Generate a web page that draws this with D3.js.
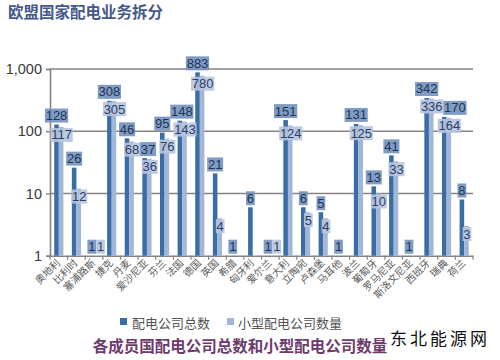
<!DOCTYPE html>
<html><head><meta charset="utf-8">
<script src="https://cdn.jsdelivr.net/npm/d3@7"></script>
<style>
html,body{margin:0;padding:0;background:#fff;}
svg{display:block;}
</style></head>
<body>
<svg id="chart" width="500" height="360"></svg>
<script>
const countries = ["奥地利","比利时","塞浦路斯","捷克","丹麦","爱沙尼亚","芬兰","法国","德国","英国","希腊","匈牙利","爱尔兰","意大利","立陶宛","卢森堡","马耳他","波兰","葡萄牙","罗马尼亚","斯洛文尼亚","西班牙","瑞典","荷兰"];
const totalValues = [128,26,1,308,77,37,95,148,883,21,1,6,1,151,6,5,1,131,13,41,1,342,170,8];
const smallValues = [117,12,1,305,68,36,76,143,780,4,null,null,1,124,5,4,null,125,10,33,null,336,164,3];
const totalLabels = ["128","26","1","308","46","37","95","148","883","21","1","6","1","151","6","5","1","131","13","41","1","342","170","8"];
const smallLabels = ["117","12","1","305","68","36","76","143","780","4",null,null,"1","124","5","4",null,"125","10","33",null,"336","164","3"];
const yTicks = [1,10,100,1000];
const seriesNames = ["配电公司总数","小型配电公司数量"];
const title = "欧盟国家配电业务拆分";
const subtitle = "各成员国配电公司总数和小型配电公司数量";
const watermark = "东北能源网";

(function(){
const svg = d3.select("#chart");
const pL = 50, pR = 473, pT = 69, pB = 255.7;
const cDark = "#3a6da6", cLight = "#a2b7d8";
const gridC = "#878380";

const x = d3.scaleBand().domain(countries).range([pL, pR]).paddingInner(0.48).paddingOuter(0.24);
const x1 = d3.scaleBand().domain(["total","small"]).range([0, x.bandwidth()]);
const y = d3.scaleLog().domain([1,1000]).range([pB, pT]);

const font = "'Liberation Sans', Arial, sans-serif";
const cjk = "'Noto Sans CJK SC', sans-serif";

svg.append("text").attr("x", 8).attr("y", 18).text(title)
  .attr("font-family", cjk).attr("font-weight", "bold").attr("font-size", 15.5).attr("fill", "#46598a");

svg.append("g").selectAll("line").data(yTicks.slice(1)).join("line")
  .attr("x1", pL).attr("x2", pR).attr("y1", d => y(d)).attr("y2", d => y(d))
  .attr("stroke", gridC).attr("stroke-width", 1.6);

const yAxis = svg.append("g").attr("transform", `translate(${pL},0)`)
  .call(d3.axisLeft(y).tickValues(yTicks).tickFormat(d3.format(",")).tickSize(4).tickPadding(4));
yAxis.select(".domain").attr("stroke", gridC).attr("stroke-width", 1.6);
yAxis.selectAll(".tick line").attr("stroke", gridC).attr("stroke-width", 1.4);
yAxis.selectAll(".tick text").attr("font-family", font).attr("font-size", 14.5).attr("fill", "#3a3a3a");

const xAxis = svg.append("g").attr("transform", `translate(0,${pB})`)
  .call(d3.axisBottom(x).tickSize(0).tickFormat(""));
xAxis.select(".domain").attr("stroke", gridC).attr("stroke-width", 1.6);
const bounds = countries.map(c => x(c) - x.step()*x.paddingInner()/2).concat([pR]);
svg.append("g").selectAll("line").data(bounds).join("line")
  .attr("x1", d => d).attr("x2", d => d).attr("y1", pB).attr("y2", pB + 4)
  .attr("stroke", gridC).attr("stroke-width", 1.2);

svg.append("g").selectAll("text").data(countries).join("text")
  .attr("transform", d => `translate(${x(d) + x.bandwidth()/2},${pB + 6}) rotate(-45)`)
  .attr("text-anchor", "end").attr("dominant-baseline", "middle")
  .attr("font-family", cjk).attr("font-size", 10).attr("fill", "#5a5a5a").text(d => d);

const data = countries.map((c,i) => ({c, t: totalValues[i], s: smallValues[i], tl: totalLabels[i], sl: smallLabels[i]}));
const bars = svg.append("g");
bars.selectAll("rect.t").data(data).join("rect").attr("class","t")
  .attr("x", d => x(d.c) + x1("total")).attr("width", x1.bandwidth())
  .attr("y", d => y(d.t)).attr("height", d => y(1) - y(d.t)).attr("fill", cDark);
bars.selectAll("rect.s").data(data.filter(d => d.s != null)).join("rect").attr("class","s")
  .attr("x", d => x(d.c) + x1("small")).attr("width", x1.bandwidth())
  .attr("y", d => y(d.s)).attr("height", d => y(1) - y(d.s)).attr("fill", cLight);

const placed = [];
const lg = svg.append("g");
const specs = [];
data.forEach(d => {
  specs.push({cx: x(d.c) + x1("total") + x1.bandwidth()/2, cy: y(d.t) - 9, txt: d.tl, bg: "#7391bb", fg: "#1d3557"});
  if (d.sl != null) {
    specs.push({cx: x(d.c) + x1("small") + x1.bandwidth()/2 + 0.5, cy: Math.min(y(d.s) + 8, y(1) - 9), txt: d.sl, bg: "#b7c4df", fg: "#2b4266"});
  }
});
specs.forEach(s => {
  const g = lg.append("g");
  const t = g.append("text").attr("x", s.cx).attr("y", s.cy).attr("text-anchor", "middle")
    .attr("dominant-baseline", "central").attr("font-family", font).attr("font-size", 13)
    .attr("fill", s.fg).text(s.txt);
  const w = t.node().getBBox().width + 1.5;
  let x0 = s.cx - w/2;
  const y0 = s.cy - 7, y1 = s.cy + 7;
  for (let k = 0; k < 3; k++) {
    placed.forEach(p => {
      if (y0 < p.y1 - 1 && y1 > p.y0 + 1 && x0 < p.x1 && x0 + w > p.x0) x0 = p.x1;
    });
  }
  t.attr("x", x0 + w/2);
  g.insert("rect", () => t.node()).attr("x", x0).attr("y", y0).attr("width", w).attr("height", 14)
    .attr("fill", s.bg).attr("opacity", 0.9);
  placed.push({x0, x1: x0 + w, y0, y1});
});

const leg = svg.append("g").attr("font-family", cjk).attr("font-size", 13).attr("fill", "#555");
leg.append("rect").attr("x", 120).attr("y", 318).attr("width", 7).attr("height", 7).attr("fill", cDark);
leg.append("text").attr("x", 132).attr("y", 322).attr("dominant-baseline", "central").text(seriesNames[0]);
leg.append("rect").attr("x", 227).attr("y", 318).attr("width", 7).attr("height", 7).attr("fill", cLight);
leg.append("text").attr("x", 238).attr("y", 322).attr("dominant-baseline", "central").text(seriesNames[1]);

svg.append("text").attr("x", 240).attr("y", 345).attr("text-anchor", "middle").attr("dominant-baseline", "central")
  .attr("font-family", cjk).attr("font-weight", "bold").attr("font-size", 15.5).attr("fill", "#6e3a6c").text(subtitle);

svg.append("text").attr("x", 390).attr("y", 337).attr("dominant-baseline", "central")
  .attr("font-family", cjk).attr("font-size", 17).attr("letter-spacing", 3).attr("fill", "#111").text(watermark);
})();
</script>
</body></html>
